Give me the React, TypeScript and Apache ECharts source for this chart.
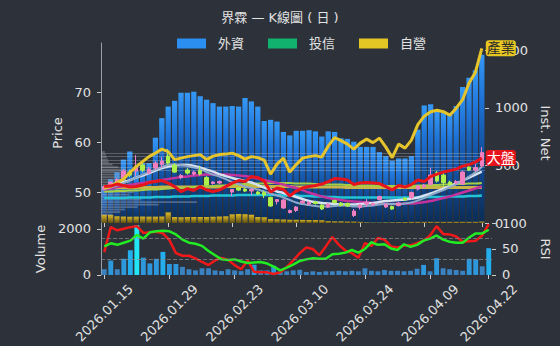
import React, { useEffect, useRef } from 'react';
import * as echarts from 'echarts';

const dates = ['2026.01.15','2026.01.16','2026.01.19','2026.01.20','2026.01.21','2026.01.22','2026.01.23','2026.01.26','2026.01.27','2026.01.28','2026.01.29','2026.01.30','2026.02.02','2026.02.03','2026.02.04','2026.02.05','2026.02.06','2026.02.09','2026.02.10','2026.02.11','2026.02.23','2026.02.24','2026.02.25','2026.02.26','2026.03.02','2026.03.03','2026.03.04','2026.03.05','2026.03.06','2026.03.09','2026.03.10','2026.03.11','2026.03.12','2026.03.13','2026.03.16','2026.03.17','2026.03.18','2026.03.19','2026.03.20','2026.03.23','2026.03.24','2026.03.25','2026.03.26','2026.03.27','2026.03.30','2026.03.31','2026.04.01','2026.04.02','2026.04.07','2026.04.08','2026.04.09','2026.04.10','2026.04.13','2026.04.14','2026.04.15','2026.04.16','2026.04.17','2026.04.20','2026.04.21','2026.04.22'];

// [open, close, low, high]
const candles = [
  [50.6,51.0,50.3,51.3],[51.2,51.9,51.0,52.2],[51.8,52.5,51.5,52.8],[52.8,54.2,52.6,54.6],[54.0,53.4,53.0,54.5],
  [54.2,55.2,53.2,57.4],[55.4,54.4,54.0,56.0],[53.8,54.6,53.5,55.0],[54.8,55.8,54.5,56.2],[55.5,56.2,54.8,57.0],
  [57.2,55.8,55.5,58.6],[55.4,54.0,53.8,55.8],[52.9,53.3,52.6,53.6],[54.4,53.8,53.5,54.8],[53.6,54.0,53.3,54.3],
  [54.3,53.6,53.3,55.3],[52.9,51.4,51.2,53.2],[51.7,52.0,51.5,52.2],[51.8,52.1,51.6,52.3],[51.0,51.3,50.8,51.5],
  [50.0,50.5,49.2,50.6],[50.8,50.4,50.2,51.0],[50.6,50.2,50.0,50.8],[50.2,50.5,49.4,50.7],[50.0,49.6,49.4,50.2],
  [49.9,49.4,48.8,50.3],[48.9,47.2,47.0,49.1],[48.1,48.5,47.5,48.6],[46.8,48.4,46.6,48.6],[45.9,46.3,45.7,46.5],
  [46.3,47.0,46.0,47.2],[47.9,48.2,47.6,48.4],[47.6,47.9,47.3,48.2],[48.0,47.7,47.5,48.2],[47.4,46.6,46.4,47.6],
  [47.0,47.6,46.8,47.8],[48.3,47.9,47.7,48.5],[47.8,47.3,47.1,48.0],[47.7,47.2,47.0,47.9],[45.3,46.2,45.0,46.6],
  [46.9,47.4,46.5,47.6],[47.6,48.0,47.0,48.6],[47.4,47.7,47.2,47.9],[48.5,49.1,48.3,49.3],[47.0,47.5,46.8,47.8],
  [47.1,46.6,46.4,47.3],[47.3,47.8,47.1,48.0],[48.8,48.4,48.2,49.0],[48.9,49.9,48.6,50.1],[50.6,51.2,50.3,51.4],
  [51.0,51.4,50.7,51.6],[51.5,53.4,51.3,54.8],[53.9,52.2,51.9,54.2],[53.4,51.9,51.0,54.0],[52.0,51.5,51.2,52.3],
  [51.8,52.1,51.6,52.4],[51.6,54.0,51.4,54.3],[55.0,54.4,54.2,55.2],[54.4,54.9,54.0,55.6],[55.2,57.9,55.0,59.0]
];

const industry = [50.8,51.1,51.9,52.6,53.9,55.1,56.1,57.1,57.8,58.6,58.1,56.5,56.8,57.1,57.3,57.5,56.5,57.2,57.5,57.6,57.8,57.3,56.6,57.1,56.9,56.4,53.6,55.6,56.8,54.0,55.5,56.8,57.1,57.3,57.0,59.2,60.9,60.3,59.6,58.6,59.8,60.6,59.9,60.8,59.0,56.9,59.6,58.8,60.4,63.5,65.2,66.1,66.4,66.1,65.4,66.8,68.5,71.8,74.0,78.8];
const market = [51.1,51.2,51.6,51.3,51.0,51.1,51.4,51.9,52.1,52.3,51.8,51.1,50.1,50.7,50.3,51.1,50.4,50.1,50.4,51.1,51.8,52.3,52.1,53.1,52.9,52.2,50.0,50.8,50.5,49.2,50.2,50.8,51.1,51.3,51.6,52.1,52.7,52.6,52.4,51.5,51.8,51.9,51.8,51.7,51.1,50.4,51.3,51.0,51.5,52.4,52.1,53.1,53.6,54.0,54.3,54.6,55.2,55.5,56.0,56.8];

const ma10 = [50.6,50.9,51.3,51.8,52.3,52.9,53.5,54.0,54.5,55.0,55.4,55.5,55.4,55.2,54.9,54.6,54.0,53.5,53.1,52.6,52.0,51.6,51.1,50.8,50.5,50.1,49.7,49.3,48.9,48.4,47.9,47.6,47.4,47.2,47.1,47.1,47.2,47.3,47.3,47.1,47.1,47.2,47.3,47.5,47.6,47.6,47.6,47.7,47.9,48.3,48.8,49.4,49.9,50.4,51.0,51.6,52.3,53.1,54.0,55.0];
const ma20 = [50.8,51.2,51.6,52.0,52.4,52.9,53.3,53.8,54.3,54.8,55.1,55.3,55.4,55.4,55.2,54.9,54.5,54.1,53.6,53.2,52.8,52.5,52.2,51.9,51.4,50.9,50.5,50.1,49.8,49.4,49.0,48.6,48.2,48.0,47.8,47.7,47.6,47.5,47.5,47.5,47.6,47.7,47.8,48.0,48.2,48.3,48.4,48.5,48.7,48.9,49.3,49.7,50.2,50.7,51.2,51.7,52.3,52.9,53.5,54.1];
const ma60 = [50.5,50.7,51.0,51.2,51.4,51.6,51.8,52.0,52.2,52.4,52.6,52.8,53.0,53.1,53.3,53.4,53.5,53.5,53.5,53.5,53.4,53.3,53.2,53.0,52.7,52.4,52.1,51.8,51.5,51.1,50.8,50.4,49.9,49.5,49.1,48.8,48.6,48.4,48.2,48.1,48.0,47.9,47.8,47.7,47.6,47.6,47.6,47.7,47.7,47.8,48.0,48.2,48.5,48.8,49.1,49.5,49.9,50.3,50.7,51.1];
const ma120 = [50.1,50.1,50.2,50.2,50.3,50.3,50.4,50.5,50.5,50.6,50.7,50.8,50.8,50.9,51.0,51.1,51.1,51.2,51.3,51.3,51.4,51.5,51.6,51.6,51.7,51.7,51.8,51.8,51.8,51.8,51.7,51.7,51.7,51.6,51.6,51.5,51.5,51.5,51.4,51.4,51.3,51.3,51.3,51.2,51.2,51.2,51.2,51.2,51.2,51.3,51.3,51.4,51.4,51.5,51.5,51.6,51.6,51.7,51.7,51.8];
const ma240 = [50.9,50.9,50.9,50.9,50.9,50.9,50.9,50.9,50.9,51.0,51.0,51.0,51.0,51.0,51.0,51.0,51.0,51.0,51.0,51.1,51.1,51.1,51.1,51.1,51.1,51.1,51.1,51.1,51.1,51.1,51.0,51.0,51.0,51.0,51.0,51.0,51.0,51.0,50.9,50.9,50.9,50.9,50.9,50.9,50.9,50.9,50.9,50.9,50.9,50.9,50.9,50.9,50.9,50.9,50.9,50.9,50.9,50.9,50.9,50.9];
const maLong = [48.8,48.8,48.8,48.8,48.9,48.9,48.9,48.9,49.0,49.0,49.0,49.1,49.1,49.1,49.2,49.2,49.2,49.3,49.3,49.3,49.3,49.4,49.4,49.4,49.4,49.4,49.4,49.4,49.3,49.3,49.3,49.2,49.2,49.1,49.1,49.0,49.0,48.9,48.9,48.9,48.9,48.9,48.9,48.9,48.9,48.9,48.9,48.9,48.9,48.9,49.0,49.0,49.0,49.0,49.1,49.1,49.1,49.2,49.2,49.3];

const foreignNet = [320,380,440,550,620,450,520,520,740,910,1010,1060,1130,1130,1140,1100,1070,1040,1010,1010,1015,1010,1085,1055,1010,885,895,880,790,760,800,800,805,795,750,795,790,735,730,705,660,660,660,615,580,540,560,560,580,810,1020,1030,970,960,945,1015,1180,1260,1325,1460];
const trustNet = [0,0,0,0,0,0,0,0,0,0,0,0,0,0,0,0,0,0,0,0,0,0,0,0,0,0,0,0,0,0,0,0,0,0,0,0,0,0,0,0,0,0,0,0,0,0,0,0,0,0,0,0,0,0,0,0,0,0,0,0];
const dealerNet = [72,70,58,56,55,55,56,55,55,56,92,52,50,52,52,52,52,54,56,58,75,78,76,72,52,50,34,32,30,28,28,27,26,26,24,16,14,14,12,12,10,4,3,3,4,5,6,8,10,10,10,10,10,10,10,10,10,10,10,12];

const volume = [250,625,250,700,1075,2160,750,500,700,1000,475,475,350,250,200,290,290,200,170,250,200,170,250,440,200,200,400,160,160,200,225,130,160,130,160,160,180,160,180,160,290,180,160,215,180,180,160,180,270,435,160,725,290,250,215,180,700,675,375,1160];
const rsiFast = [44,92,86,89,92,94,81,82,83,80,67,42,37,37,32,25,19,28,33,29,19,11,28,6,5,5,2,5,15,28,42,53,50,38,55,73,58,47,42,33,61,56,71,68,55,53,56,57,61,66,76,94,79,78,74,64,65,66,76,98];
const rsiSlow = [55,61,58,62,66,77,70,82,84,85,84,78,68,62,60,56,46,38,30,29,30,26,23,24,25,22,16,9,14,20,27,30,32,31,31,40,41,43,48,43,50,63,58,59,51,48,59,54,58,66,70,76,68,64,62,62,72,80,80,87];

const profilePrices = [58.0,57.5,57.0,56.5,56.0,55.5,55.0,54.5,54.0,53.5,53.0,52.5,52.0,51.5,51.0,50.5,50.0,49.5,49.0,48.5,48.0,47.5,47.0,46.5,46.0,45.5];
const profileVols = [200,250,300,350,400,600,900,1300,1500,1300,1200,1300,1500,1600,1800,1900,1700,1500,1600,2100,5000,3000,1900,1250,1000,600];
const levelLines = [57.8,57.1,56.3,55.7,55.0,54.3];

const priceTicks = [50,60,70];
const instTicks = [0,500,1000,1500];
const volTicks = [0,2000];
const rsiTicks = [0,50,100];
const rsiGuides = [70,30];

const FONT = '"DejaVu Sans", "Noto Sans CJK TC", sans-serif';
const TXT = '#e2e2e2';

export default function App() {
  const ref = useRef<HTMLDivElement>(null);
  useEffect(() => {
    if (!ref.current) return;
    const chart = echarts.init(ref.current, null, { renderer: 'svg' });
    const maxVol = Math.max(...volume);
    const showIdx = (i: number) => i % 10 === 0 || i === dates.length - 1;
    const plain = (v: number) => String(v);
    const lineS = (data: number[], color: string, width: number, z: number, extra: any = {}) => ({
      type: 'line', xAxisIndex: 0, yAxisIndex: 0, data, symbol: 'none', smooth: true, z,
      lineStyle: { color, width }, silent: true, ...extra,
    });
    const yAx = (o: any, ticks: number[]) => ({
      type: 'value', nameLocation: 'middle',
      nameTextStyle: { color: TXT, fontSize: 13, fontFamily: FONT },
      axisTick: { show: true, length: 4, customValues: ticks, lineStyle: { color: '#cccccc' } },
      axisLabel: { color: TXT, fontSize: 13, margin: 10, customValues: ticks, fontFamily: FONT, formatter: plain },
      splitLine: { show: false },
      ...o,
    });
    const option: any = {
      animation: false,
      backgroundColor: '#2d323a',
      textStyle: { fontFamily: FONT },
      title: {
        text: '界霖 — K線圖 ( 日 )', left: 'center', top: 6,
        textStyle: { color: TXT, fontSize: 13, fontWeight: 'normal', fontFamily: FONT },
      },
      legend: {
        top: 32, left: 172, itemWidth: 29, itemHeight: 10, itemGap: 24, icon: 'rect',
        textStyle: { color: TXT, fontSize: 13, fontFamily: FONT, padding: [0, 0, 0, 7] },
        data: [
          { name: '外資', itemStyle: { color: '#2b8ff2' } },
          { name: '投信', itemStyle: { color: '#10b26e' } },
          { name: '自營', itemStyle: { color: '#e3c524' } },
        ],
      },
      grid: [
        { left: 101, right: 55, top: 43, height: 180 },
        { left: 101, right: 55, top: 223, height: 60 },
      ],
      xAxis: [
        {
          type: 'category', gridIndex: 0, data: dates, boundaryGap: true,
          axisLine: { show: false },
          axisTick: { show: true, alignWithLabel: true, interval: (i: number) => showIdx(i), length: 4, lineStyle: { color: '#cccccc' } },
          axisLabel: { show: false }, splitLine: { show: false },
        },
        {
          type: 'category', gridIndex: 1, data: dates, boundaryGap: true,
          axisLine: { show: false },
          axisTick: { show: true, alignWithLabel: true, interval: (i: number) => showIdx(i), length: 4, lineStyle: { color: '#cccccc' } },
          axisLabel: {
            show: true, interval: (i: number) => showIdx(i), rotate: 45, align: 'center', verticalAlign: 'middle',
            color: TXT, fontSize: 13, margin: 38, fontFamily: FONT,
          },
          splitLine: { show: false },
        },
        { type: 'value', gridIndex: 0, min: 0, max: 20000, show: false },
      ],
      yAxis: [
        yAx({
          gridIndex: 0, position: 'left', min: 43.8, max: 79.86,
          name: 'Price', nameRotate: 90, nameGap: 30,
          axisLine: { show: true, lineStyle: { color: '#9a9ea6' } },
        }, priceTicks),
        yAx({
          gridIndex: 0, position: 'right', min: 0, max: 1562,
          name: 'Inst. Net', nameRotate: -90, nameGap: 47,
          axisLine: { show: false },
        }, instTicks),
        yAx({
          gridIndex: 1, position: 'left', min: 0, max: 2251,
          name: 'Volume', nameRotate: 90, nameGap: 54,
          axisLine: { show: true, lineStyle: { color: '#9a9ea6' } },
        }, volTicks),
        yAx({
          gridIndex: 1, position: 'right', min: 0, max: 100,
          name: 'RSI', nameRotate: -90, nameGap: 47,
          axisLine: { show: false },
        }, rsiTicks),
      ],
      series: [
        {
          name: '外資', type: 'bar', xAxisIndex: 0, yAxisIndex: 1, data: foreignNet, barWidth: '82%', barGap: '-100%', z: 1, silent: true,
          itemStyle: {
            color: new echarts.graphic.LinearGradient(0, 0, 0, 1, [
              { offset: 0, color: '#3598f6' },
              { offset: 0.25, color: '#1f74d8' },
              { offset: 0.6, color: '#124d9a' },
              { offset: 1, color: '#0b2c55' },
            ]),
          },
        },
        {
          name: '投信', type: 'bar', xAxisIndex: 0, yAxisIndex: 1, data: trustNet, barWidth: '82%', barGap: '-100%', z: 1, silent: true,
          itemStyle: { color: '#10b26e' },
        },
        {
          name: '自營', type: 'bar', xAxisIndex: 0, yAxisIndex: 1, data: dealerNet, barWidth: '82%', barGap: '-100%', z: 1, silent: true,
          itemStyle: {
            color: new echarts.graphic.LinearGradient(0, 0, 0, 1, [
              { offset: 0, color: '#d9b725' },
              { offset: 1, color: '#5e4e12' },
            ]),
          },
        },
        {
          type: 'custom', xAxisIndex: 2, yAxisIndex: 0, z: 2, silent: true,
          data: profilePrices.map((p, i) => [profileVols[i], p]),
          renderItem: (params: any, api: any) => {
            const v = api.value(0);
            const p = api.value(1);
            const a = api.coord([0, p + 0.18]);
            const b = api.coord([v, p - 0.18]);
            return {
              type: 'rect',
              shape: { x: a[0], y: a[1], width: b[0] - a[0], height: b[1] - a[1] },
              style: { fill: 'rgba(165,170,182,0.42)' },
            };
          },
        },
        lineS(maLong, '#22c4d6', 2.5, 3),
        lineS(ma240, '#c9b448', 3, 3),
        lineS(ma120, '#a4cf44', 2, 3),
        lineS(ma60, '#c2339c', 2.5, 3),
        lineS(ma20, '#d6e2f0', 2.5, 3),
        lineS(ma10, '#8ea8c8', 2, 3, {
          markLine: {
            silent: true, symbol: 'none', label: { show: false },
            lineStyle: { color: 'rgba(200,204,214,0.3)', width: 1, type: 'solid' },
            data: levelLines.map((v) => ({ yAxis: v })),
          },
        }),
        {
          type: 'candlestick', xAxisIndex: 0, yAxisIndex: 0, data: candles, barWidth: '62%', z: 5, silent: true,
          itemStyle: { color: '#ef7fbe', color0: '#aef04c', borderColor: '#ef7fbe', borderColor0: '#aef04c', borderWidth: 1 },
        },
        {
          type: 'line', xAxisIndex: 0, yAxisIndex: 0, data: industry, symbol: 'none', z: 6, silent: true,
          lineStyle: { color: '#e6c52c', width: 3 },
          endLabel: {
            show: true, formatter: '產業', color: '#2a2a2a', backgroundColor: '#e8c722', borderRadius: 3,
            padding: [1, 1], fontSize: 14, distance: 4, fontFamily: FONT,
          },
        },
        {
          type: 'line', xAxisIndex: 0, yAxisIndex: 0, data: market, symbol: 'none', z: 6, silent: true,
          lineStyle: { color: '#e8141c', width: 3 },
          endLabel: {
            show: true, formatter: '大盤', color: '#ffffff', backgroundColor: '#e8141c', borderRadius: 3,
            padding: [1, 1], fontSize: 14, distance: 4, fontFamily: FONT,
          },
        },
        {
          type: 'bar', xAxisIndex: 1, yAxisIndex: 2, data: volume, barWidth: '75%', silent: true, z: 1,
          itemStyle: {
            color: (p: any) => (p.value === maxVol ? '#22e6f6' : p.value >= 1000 ? '#23aeee' : p.value >= 400 ? '#2d98dc' : '#3a82c0'),
          },
        },
        {
          type: 'line', xAxisIndex: 1, yAxisIndex: 3, data: rsiFast, symbol: 'none', silent: true, z: 3,
          lineStyle: { color: '#f01818', width: 2.5 },
          markLine: {
            silent: true, symbol: 'none', label: { show: false },
            lineStyle: { color: 'rgba(140,140,140,0.7)', width: 1, type: 'dashed' },
            data: rsiGuides.map((v) => ({ yAxis: v })),
          },
        },
        {
          type: 'line', xAxisIndex: 1, yAxisIndex: 3, data: rsiSlow, symbol: 'none', silent: true, z: 4,
          lineStyle: { color: '#22ec22', width: 2.5 },
        },
      ],
    };
    chart.setOption(option);
    return () => chart.dispose();
  }, []);
  return <div ref={ref} style={{ position: 'fixed', left: 0, top: 0, width: 560, height: 346 }} />;
}
